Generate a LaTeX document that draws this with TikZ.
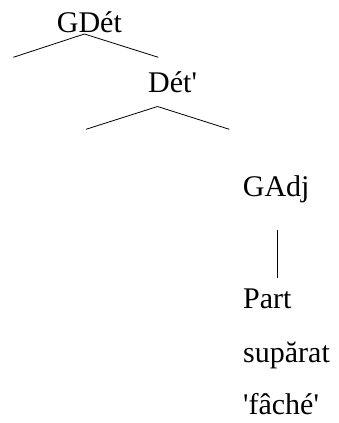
\documentclass[tikz,border=0pt]{standalone}
\usepackage{fontspec}
\setmainfont{Liberation Serif}
\begin{document}
\begin{tikzpicture}[x=1pt,y=1pt,
   every node/.style={font=\fontsize{30}{36}\selectfont, inner sep=0pt, anchor=base west},
   branch/.style={line width=0.8pt}]
   \useasboundingbox (0,0) rectangle (339,-423);
   \node (GDet) at (56.7,-32.5) {GDét};
   \node (Det)  at (148,-92) {Dét\textquotesingle};
   \node (GAdj) at (242.7,-196.7) {GAdj};
   \node (Part) at (243,-308.3) {Part};
   \node (Lex)  at ([yshift=-54pt]Part.base west) {supărat};
   \node (Gloss) at ([yshift=-52pt]Lex.base west) {\textquotesingle fâché\textquotesingle};
   \coordinate (GDetL) at (13.3,-57.3);
   \coordinate (GDetR) at (158.3,-57.3);
   \coordinate (DetL) at (86,-129.3);
   \coordinate (DetR) at (229.3,-129.3);
   \path[branch]
     ([xshift=-5pt,yshift=-1pt]GDet.south) edge (GDetL)
                                           edge (GDetR)
     ([xshift=-15pt,yshift=-14pt]Det.south) edge (DetL)
                                            edge (DetR);
   \draw[branch] ([xshift=1.3pt,yshift=-27pt]GAdj.south) -- ([xshift=1.3pt,yshift=10pt]GAdj.south |- Part.north);
\end{tikzpicture}
\end{document}
